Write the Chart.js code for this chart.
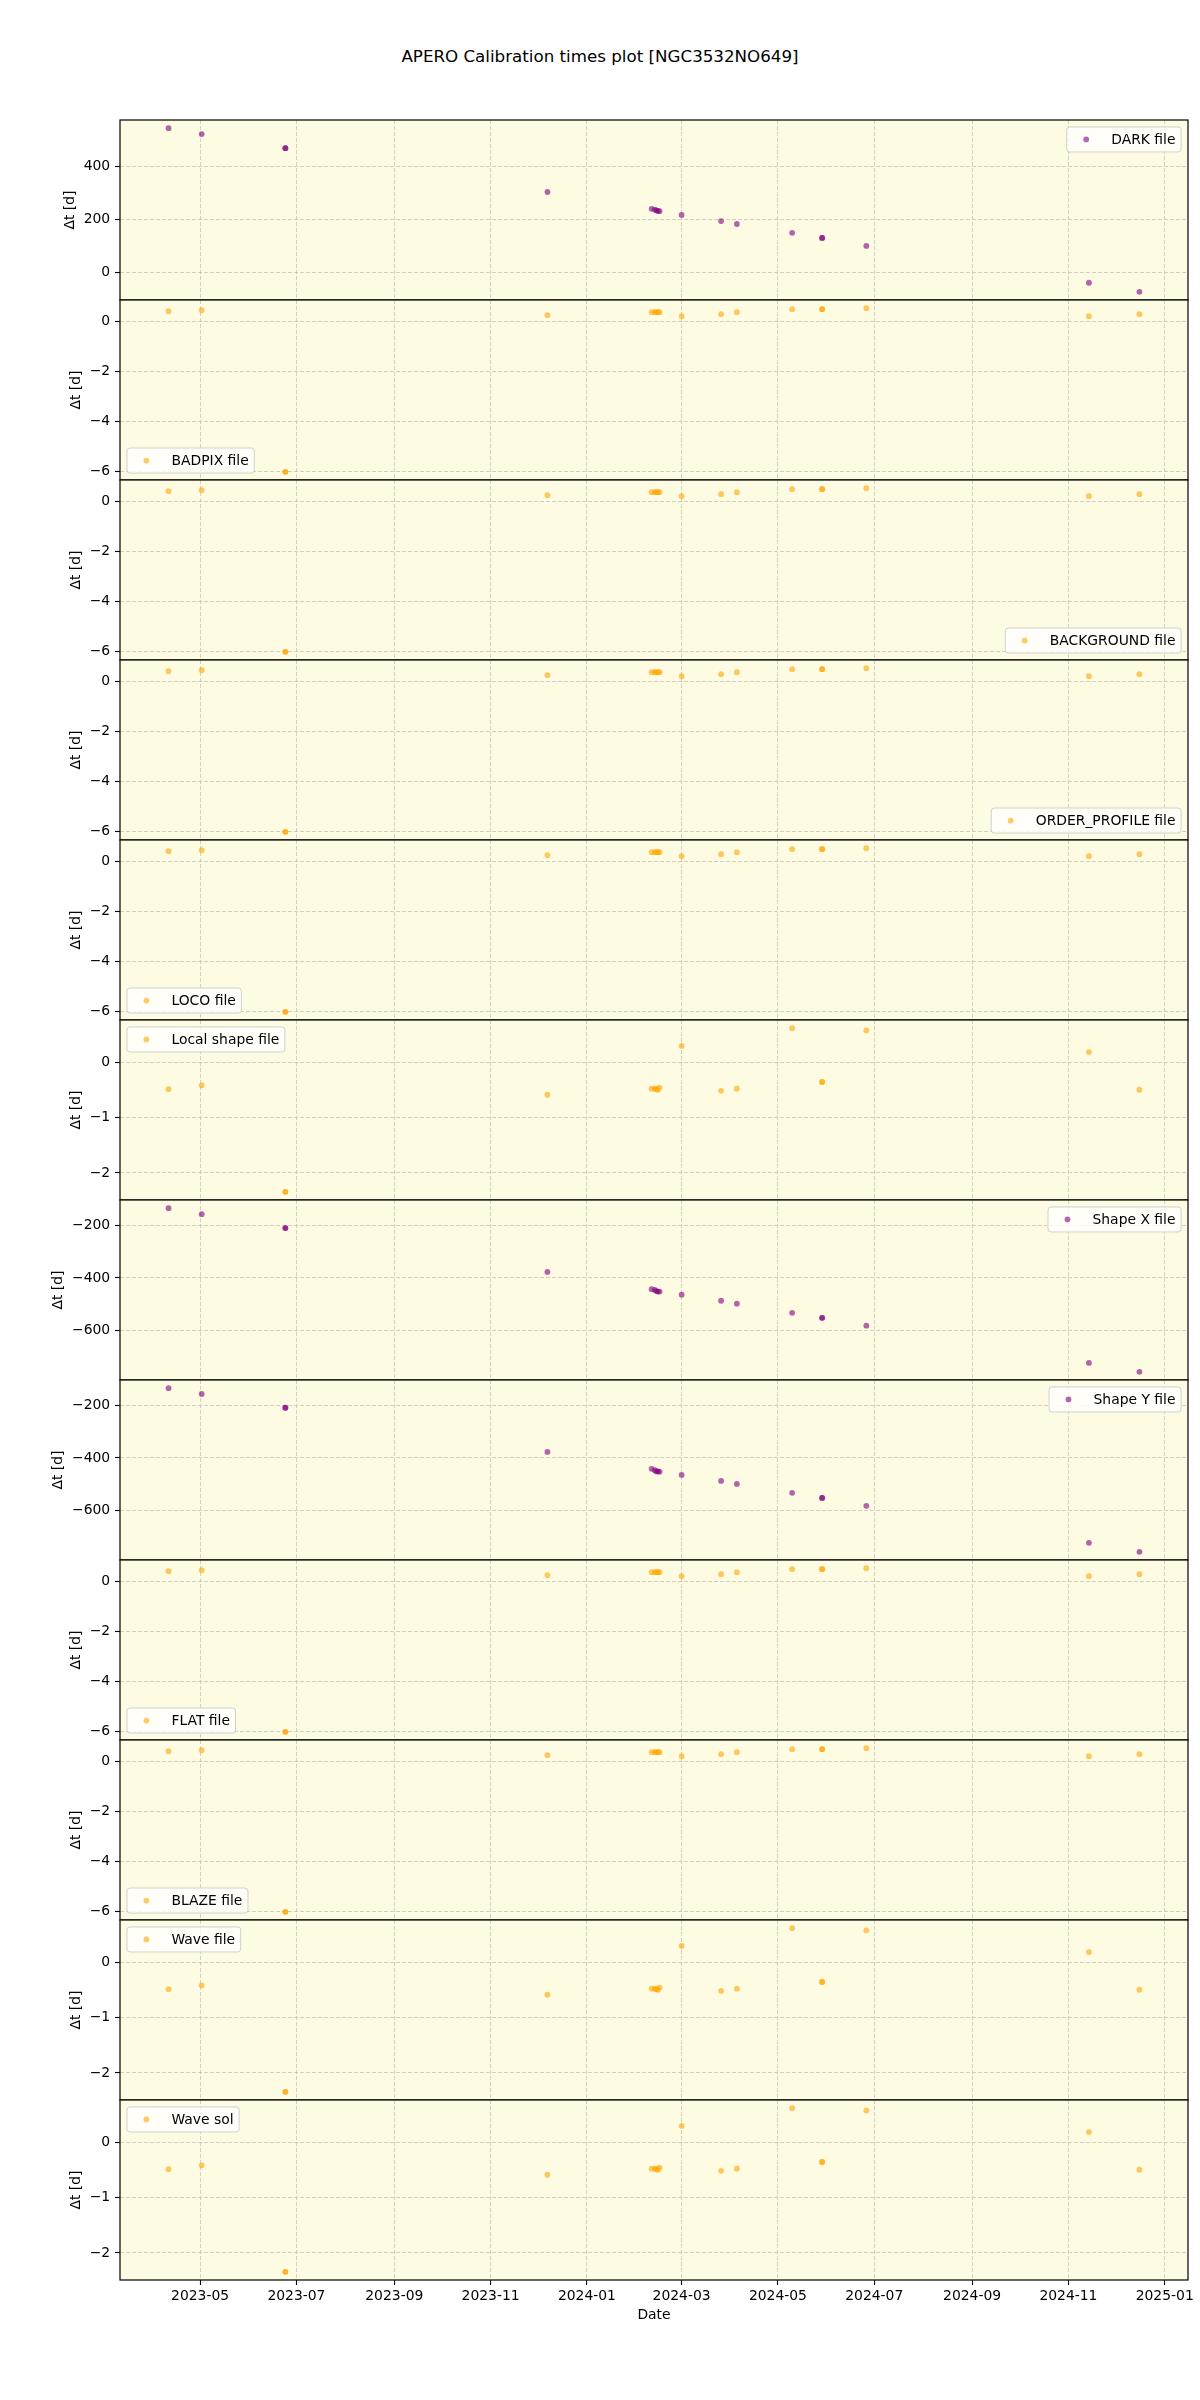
<!DOCTYPE html>
<html>
<head>
<meta charset="utf-8">
<script src="https://cdn.jsdelivr.net/npm/chart.js@4.4.1/dist/chart.umd.min.js"></script>
<style>
html,body{margin:0;padding:0;background:#fff;}
#wrap{position:relative;width:1200px;height:2400px;overflow:hidden;background:#fff;}
#title{position:absolute;left:0;top:46px;width:1200px;text-align:center;font-family:"DejaVu Sans";font-size:16.7px;line-height:20px;color:#000;}
canvas{position:absolute;left:0;}
</style>
</head>
<body>
<div id="wrap"><div id="title">APERO Calibration times plot [NGC3532NO649]</div></div>
<script>
// ---------- data ----------
const obsDates = ['2023-04-11','2023-05-02','2023-06-24','2023-06-24','2023-12-07',
  '2024-02-11','2024-02-13','2024-02-14','2024-02-15','2024-02-16','2024-03-01',
  '2024-03-26','2024-04-05','2024-05-10','2024-05-29','2024-05-29','2024-06-26',
  '2024-11-14','2024-12-16'];

const darkDt        = [542, 520, 467, 467, 303, 240, 237, 234, 232, 231, 217, 194, 183, 150, 131, 131, 101, -37, -71];
const badpixDt      = [0.40, 0.44, -6.02, -6.02, 0.24, 0.36, 0.36, 0.36, 0.36, 0.36, 0.20, 0.28, 0.36, 0.48, 0.48, 0.48, 0.52, 0.20, 0.28];
const backgroundDt  = [0.40, 0.44, -6.02, -6.02, 0.24, 0.36, 0.36, 0.36, 0.36, 0.36, 0.20, 0.28, 0.36, 0.48, 0.48, 0.48, 0.52, 0.20, 0.28];
const orderProfDt   = [0.40, 0.44, -6.02, -6.02, 0.24, 0.36, 0.36, 0.36, 0.36, 0.36, 0.20, 0.28, 0.36, 0.48, 0.48, 0.48, 0.52, 0.20, 0.28];
const locoDt        = [0.40, 0.44, -6.02, -6.02, 0.24, 0.36, 0.36, 0.36, 0.36, 0.36, 0.20, 0.28, 0.36, 0.48, 0.48, 0.48, 0.52, 0.20, 0.28];
const localShapeDt  = [-0.49, -0.42, -2.34, -2.34, -0.59, -0.48, -0.48, -0.49, -0.50, -0.46, 0.29, -0.52, -0.48, 0.61, -0.36, -0.36, 0.57, 0.18, -0.50];
const shapeXDt      = [-134, -157, -210, -210, -377, -443, -446, -450, -452, -452, -464, -487, -498, -533, -552, -552, -582, -724, -758];
const shapeYDt      = [-136, -158, -210, -210, -377, -441, -446, -451, -451, -452, -464, -487, -498, -532, -551, -551, -581, -721, -755];
const flatDt        = [0.40, 0.44, -6.02, -6.02, 0.24, 0.36, 0.36, 0.36, 0.36, 0.36, 0.20, 0.28, 0.36, 0.48, 0.48, 0.48, 0.52, 0.20, 0.28];
const blazeDt       = [0.40, 0.44, -6.02, -6.02, 0.24, 0.36, 0.36, 0.36, 0.36, 0.36, 0.20, 0.28, 0.36, 0.48, 0.48, 0.48, 0.52, 0.20, 0.28];
const waveFileDt    = [-0.49, -0.42, -2.34, -2.34, -0.59, -0.48, -0.48, -0.49, -0.50, -0.46, 0.29, -0.52, -0.48, 0.61, -0.36, -0.36, 0.57, 0.18, -0.50];
const waveSolDt     = [-0.49, -0.42, -2.34, -2.34, -0.59, -0.48, -0.48, -0.49, -0.50, -0.46, 0.29, -0.52, -0.48, 0.61, -0.36, -0.36, 0.57, 0.18, -0.50];

const seriesLabels = ['DARK file','BADPIX file','BACKGROUND file','ORDER_PROFILE file','LOCO file',
  'Local shape file','Shape X file','Shape Y file','FLAT file','BLAZE file','Wave file','Wave sol'];

const darkTicks  = [0, 200, 400];
const calTicks   = [-6, -4, -2, 0];
const shapeTicks = [-2, -1, 0];
const xyTicks    = [-600, -400, -200];

const xTickLabels = ['2023-05','2023-07','2023-09','2023-11','2024-01','2024-03',
  '2024-05','2024-07','2024-09','2024-11','2025-01'];

const yAxisTitle = 'Δt [d]';
const xAxisTitle = 'Date';

// ---------- styling ----------
const PURPLE = 'rgba(128,0,128,0.6)';
const ORANGE = 'rgba(255,165,0,0.6)';
const BG = '#fdfbe2';
const GRID = 'rgba(165,165,165,0.5)';
const FONT = '"DejaVu Sans"';
const FS = 13.9;
const PR = 2.9;

const panels = [
  {vals: darkDt,       ticks: darkTicks,  color: PURPLE, leg: 'ur'},
  {vals: badpixDt,     ticks: calTicks,   color: ORANGE, leg: 'll'},
  {vals: backgroundDt, ticks: calTicks,   color: ORANGE, leg: 'lr'},
  {vals: orderProfDt,  ticks: calTicks,   color: ORANGE, leg: 'lr'},
  {vals: locoDt,       ticks: calTicks,   color: ORANGE, leg: 'll'},
  {vals: localShapeDt, ticks: shapeTicks, color: ORANGE, leg: 'ul'},
  {vals: shapeXDt,     ticks: xyTicks,    color: PURPLE, leg: 'ur'},
  {vals: shapeYDt,     ticks: xyTicks,    color: PURPLE, leg: 'ur'},
  {vals: flatDt,       ticks: calTicks,   color: ORANGE, leg: 'll'},
  {vals: blazeDt,      ticks: calTicks,   color: ORANGE, leg: 'll'},
  {vals: waveFileDt,   ticks: shapeTicks, color: ORANGE, leg: 'ul'},
  {vals: waveSolDt,    ticks: shapeTicks, color: ORANGE, leg: 'ul'}
];

const toMs = s => Date.parse(s + 'T00:00:00Z');
const xVals = obsDates.map(toMs);
const xMinD = Math.min(...xVals), xMaxD = Math.max(...xVals);
const xMargin = 0.05 * (xMaxD - xMinD);
const xTickVals = xTickLabels.map(l => toMs(l + '-01'));

const fmtNum = v => (v < 0 ? '\u2212' : '') + Math.abs(v);
const fmtDate = v => {
  const d = new Date(v);
  return d.getUTCFullYear() + '-' + String(d.getUTCMonth() + 1).padStart(2, '0');
};

const measureCtx = document.createElement('canvas').getContext('2d');
measureCtx.font = FS + 'px ' + FONT;

const PLOT_TOP = 120, PANEL_H = 180, PAD = 30;
const AX_LEFT = 120, AX_RIGHT_PAD = 12;

const panelPlugin = {
  id: 'panelDecor',
  beforeDraw(chart, args, opts) {
    const {ctx, chartArea: a} = chart;
    ctx.save();
    ctx.fillStyle = BG;
    ctx.fillRect(a.left, a.top, a.right - a.left, a.bottom - a.top);
    ctx.restore();
  },
  afterDraw(chart, args, opts) {
    const {ctx, chartArea: a} = chart;
    ctx.save();
    ctx.strokeStyle = '#000';
    ctx.lineWidth = 1.2;
    ctx.strokeRect(a.left, a.top, a.right - a.left, a.bottom - a.top);
    // legend
    const label = opts.label;
    ctx.font = FS + 'px ' + FONT;
    const tw = ctx.measureText(label).width;
    const bp = 0.4 * FS, hl = 2.0 * FS, htp = 0.8 * FS, axp = 0.5 * FS;
    const w = bp + hl + htp + tw + bp;
    const h = 2 * bp + FS;
    let x, y;
    if (opts.pos[1] === 'r') x = a.right - axp - w; else x = a.left + axp;
    if (opts.pos[0] === 'u') y = a.top + axp; else y = a.bottom - axp - h;
    const r = 3;
    ctx.beginPath();
    ctx.moveTo(x + r, y);
    ctx.lineTo(x + w - r, y); ctx.quadraticCurveTo(x + w, y, x + w, y + r);
    ctx.lineTo(x + w, y + h - r); ctx.quadraticCurveTo(x + w, y + h, x + w - r, y + h);
    ctx.lineTo(x + r, y + h); ctx.quadraticCurveTo(x, y + h, x, y + h - r);
    ctx.lineTo(x, y + r); ctx.quadraticCurveTo(x, y, x + r, y);
    ctx.closePath();
    ctx.fillStyle = 'rgba(255,255,255,0.8)';
    ctx.fill();
    ctx.strokeStyle = '#d0d0d0';
    ctx.lineWidth = 1;
    ctx.stroke();
    ctx.beginPath();
    ctx.arc(x + bp + hl / 2, y + h / 2, PR, 0, Math.PI * 2);
    ctx.fillStyle = opts.color;
    ctx.fill();
    ctx.fillStyle = '#000';
    ctx.textBaseline = 'middle';
    ctx.textAlign = 'left';
    ctx.fillText(label, x + bp + hl + htp, y + h / 2 + 0.5);
    ctx.restore();
  }
};

const wrap = document.getElementById('wrap');

panels.forEach((p, i) => {
  const last = i === panels.length - 1;
  const top = PLOT_TOP + PANEL_H * i - PAD;
  const height = last ? (2400 - top) : (PANEL_H + 2 * PAD);
  const cv = document.createElement('canvas');
  cv.width = 1200; cv.height = height;
  cv.style.top = top + 'px';
  cv.style.width = '1200px'; cv.style.height = height + 'px';
  wrap.appendChild(cv);

  const yMin = Math.min(...p.vals), yMax = Math.max(...p.vals);
  const yM = 0.05 * (yMax - yMin);

  const maxLabW = Math.max(...p.ticks.map(t => measureCtx.measureText(fmtNum(t)).width));
  const titleCenter = (AX_LEFT - 9.8) - maxLabW - 5.6 - 8.1;
  const titleLH = FS * 1.2;

  const xAxisH = last ? 60 : 0;
  const padBottom = last ? (height - PAD - PANEL_H - xAxisH) : PAD;

  new Chart(cv, {
    type: 'scatter',
    data: {
      datasets: [{
        label: seriesLabels[i],
        data: p.vals.map((v, k) => ({x: xVals[k], y: v})),
        backgroundColor: p.color,
        borderWidth: 0,
        pointRadius: PR,
        pointHoverRadius: PR
      }]
    },
    options: {
      responsive: false,
      animation: false,
      devicePixelRatio: 1,
      layout: {padding: {top: PAD, bottom: padBottom, left: 0, right: AX_RIGHT_PAD}},
      plugins: {
        legend: {display: false},
        tooltip: {enabled: false},
        panelDecor: {label: seriesLabels[i], pos: p.leg, color: p.color}
      },
      scales: {
        x: {
          type: 'linear',
          min: xMinD - xMargin,
          max: xMaxD + xMargin,
          afterBuildTicks: ax => { ax.ticks = xTickVals.map(v => ({value: v})); },
          afterFit: ax => { ax.height = xAxisH; },
          grid: {
            color: GRID, lineWidth: 1,
            drawTicks: last, tickLength: 5, tickColor: '#000', tickWidth: 1.1, tickBorderDash: []
          },
          border: {display: false, dash: [4, 2]},
          ticks: {
            display: last, autoSkip: false, maxRotation: 0, minRotation: 0, padding: 3.5,
            color: '#000', font: {family: FONT, size: FS},
            callback: v => fmtDate(v)
          },
          title: {
            display: last, text: xAxisTitle, color: '#000',
            font: {family: FONT, size: FS}, padding: {top: 0, bottom: 16.6}
          }
        },
        y: {
          type: 'linear',
          min: yMin - yM,
          max: yMax + yM,
          afterBuildTicks: ax => { ax.ticks = p.ticks.map(v => ({value: v})); },
          afterFit: ax => { ax.width = AX_LEFT; },
          grid: {
            color: GRID, lineWidth: 1,
            drawTicks: true, tickLength: 5, tickColor: '#000', tickWidth: 1.1, tickBorderDash: []
          },
          border: {display: false, dash: [4, 2]},
          ticks: {
            padding: 4.8, color: '#000', font: {family: FONT, size: FS},
            callback: v => fmtNum(v)
          },
          title: {
            display: true, text: yAxisTitle, color: '#000',
            font: {family: FONT, size: FS},
            padding: {top: titleCenter - titleLH / 2, bottom: 0}
          }
        }
      }
    },
    plugins: [panelPlugin]
  });
});
</script>
</body>
</html>
